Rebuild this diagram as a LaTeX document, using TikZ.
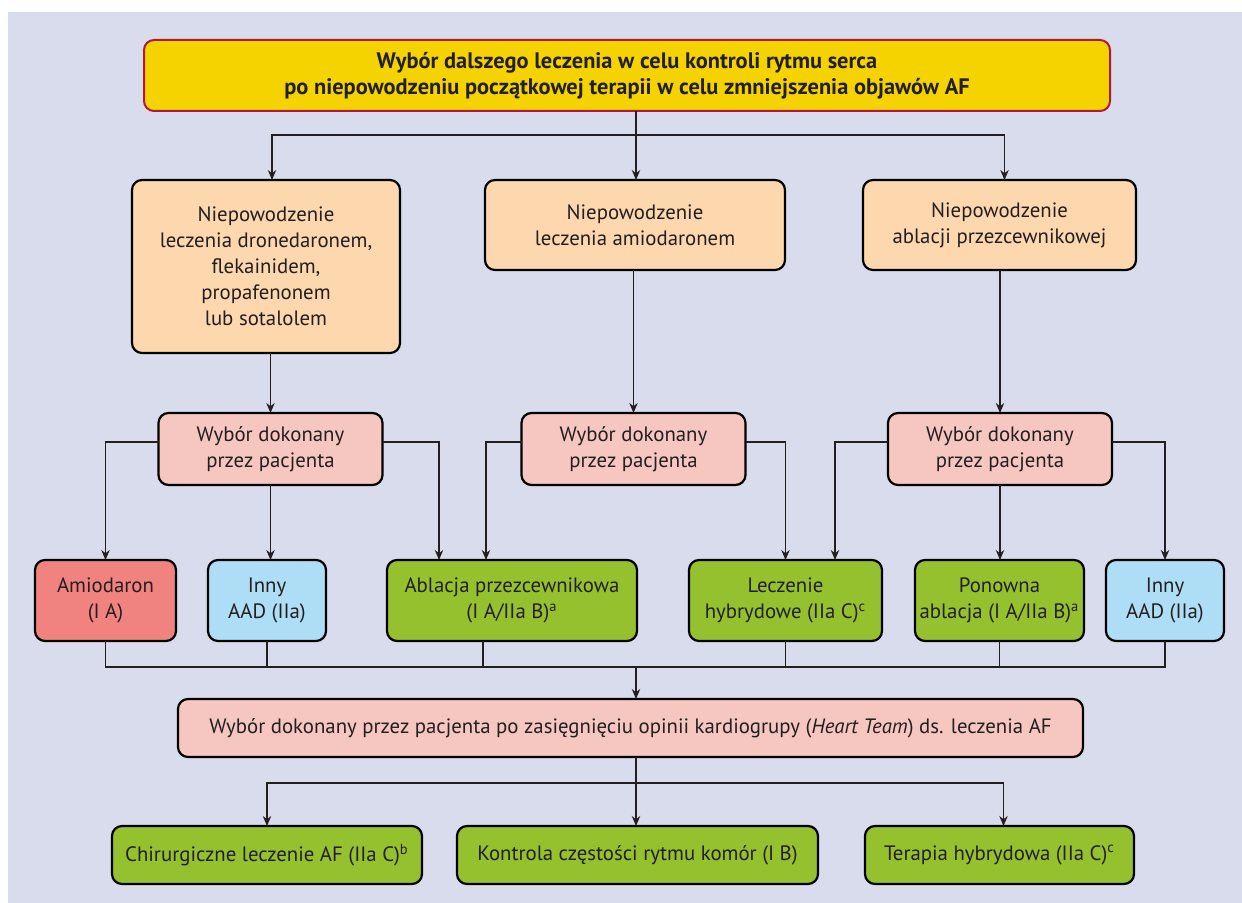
\documentclass[tikz,border=0pt]{standalone}
\usepackage{fontspec}
\setmainfont{PT Sans}
\usetikzlibrary{positioning,arrows.meta}
\definecolor{bgcol}{RGB}{217,220,236}
\definecolor{yellowbg}{RGB}{245,211,0}
\definecolor{crimson}{RGB}{176,24,66}
\definecolor{peach}{RGB}{253,215,174}
\definecolor{pinkbg}{RGB}{246,198,192}
\definecolor{redbg}{RGB}{240,131,128}
\definecolor{bluebg}{RGB}{174,221,246}
\definecolor{greenbg}{RGB}{149,193,47}
\definecolor{txt}{RGB}{35,31,32}
\tikzstyle{hbox}=[rectangle, rounded corners=5pt, draw=black, line width=1.1pt,
                  inner sep=0.5pt, outer sep=0pt, align=center, text=txt,
                  font=\fontsize{10.4}{13}\selectfont]
\tikzstyle{ybox}=[hbox, fill=yellowbg, draw=crimson, line width=1pt,
                  font=\fontsize{11.2}{13}\selectfont\bfseries]
\tikzstyle{obox}=[hbox, fill=peach]
\tikzstyle{rbox}=[hbox, fill=pinkbg]
\tikzstyle{abox}=[hbox, fill=redbg, minimum width=70.5pt, minimum height=40.5pt]
\tikzstyle{bbox}=[hbox, fill=bluebg, minimum width=59pt, minimum height=40.5pt]
\tikzstyle{gbox}=[hbox, fill=greenbg, minimum height=40.5pt]
\tikzstyle{pline}=[-, line width=0.6pt, draw=txt]
\tikzstyle{parrow}=[pline, -{Stealth[length=5pt,width=4.2pt]}]

\begin{document}
\begin{tikzpicture}
\useasboundingbox (0,0) rectangle (621pt,-451.5pt);
\fill[bgcol] (4pt,-6pt) rectangle (621pt,-451.5pt);

\node (TOP) [ybox, minimum width=483pt, minimum height=35.5pt] at (313.5pt,-37.75pt)
 {Wybór dalszego leczenia w celu kontroli rytmu serca\\ po niepowodzeniu początkowej terapii w celu zmniejszenia objawów AF};

\node (NDRON) [obox, minimum width=134pt, minimum height=86.5pt, below=34.5pt of TOP, xshift=-180.5pt]
 {Niepowodzenie\\ leczenia dronedaronem,\\ flekainidem,\\ propafenonem\\ lub sotalolem};
\node (NAMIO) [obox, minimum width=150pt, minimum height=45pt, below=34.5pt of TOP, xshift=4pt]
 {Niepowodzenie\\ leczenia amiodaronem};
\node (NABL) [obox, minimum width=136.5pt, minimum height=45pt, below=34.5pt of TOP, xshift=186.25pt]
 {Niepowodzenie\\ ablacji przezcewnikowej};

\coordinate (SPLIT) at ([xshift=4.5pt,yshift=-12pt]TOP.south);
\draw[pline] ([xshift=4.5pt]TOP.south) -- (SPLIT);
\draw[parrow] (SPLIT) -| ([xshift=3pt]NDRON.north);
\draw[parrow] (SPLIT) -- (SPLIT |- NAMIO.north);
\draw[parrow] (SPLIT) -| ([xshift=2.5pt]NABL.north);

\node (PLEFT) [rbox, minimum width=112pt, minimum height=36pt, below=30pt of NDRON, xshift=2.25pt]
 {Wybór dokonany\\ przez pacjenta};
\node (PMID) [rbox, minimum width=112pt, minimum height=36pt, below=71.5pt of NAMIO, xshift=-0.75pt]
 {Wybór dokonany\\ przez pacjenta};
\node (PRIGHT) [rbox, minimum width=112pt, minimum height=36pt, below=71.5pt of NABL, xshift=0.25pt]
 {Wybór dokonany\\ przez pacjenta};

\draw[parrow] (PLEFT.north |- NDRON.south) -- (PLEFT.north);
\draw[parrow] (PMID.north |- NAMIO.south) -- (PMID.north);
\draw[parrow] (PRIGHT.north |- NABL.south) -- (PRIGHT.north);

\node (AMIO) [abox, below=37.5pt of PLEFT, xshift=-82.5pt] {Amiodaron\\ (I A)};
\node (INNY1) [bbox, right=16pt of AMIO] {Inny\\ AAD (IIa)};
\node (ABLP) [gbox, minimum width=125pt, right=30.5pt of INNY1]
 {Ablacja przezcewnikowa\\ (I A/IIa B)\textsuperscript{a}};
\node (HYBR) [gbox, minimum width=96.5pt, right=26pt of ABLP]
 {Leczenie\\ hybrydowe (IIa C)\textsuperscript{c}};
\node (PONOW) [gbox, minimum width=84.5pt, right=16.5pt of HYBR]
 {Ponowna\\ ablacja (I A/IIa B)\textsuperscript{a}};
\node (INNY2) [bbox, right=11pt of PONOW] {Inny\\ AAD (IIa)};

\draw[parrow] ([yshift=3.5pt]PLEFT.west) -| (AMIO.north);
\draw[parrow] (PLEFT.south) -- (PLEFT.south |- INNY1.north);
\draw[parrow] ([yshift=3.5pt]PLEFT.east) -| ([xshift=-36.5pt]ABLP.north);
\draw[parrow] ([yshift=3.5pt]PMID.west) -| ([xshift=-13pt]ABLP.north);
\draw[parrow] ([yshift=3.5pt]PMID.east) -| (HYBR.north);
\draw[parrow] ([yshift=3.5pt]PRIGHT.west) -| ([xshift=24.75pt]HYBR.north);
\draw[parrow] (PRIGHT.south) -- (PRIGHT.south |- PONOW.north);
\draw[parrow] ([yshift=3.5pt]PRIGHT.east) -| (INNY2.north);

\node (HTEAM) [rbox, minimum width=452.5pt, minimum height=29pt, below=29pt of HYBR, xshift=-77.5pt]
 {Wybór dokonany przez pacjenta po zasięgnięciu opinii kardiogrupy (\textit{Heart Team}) ds. leczenia AF};

\draw[pline] (AMIO.south) -- ++(0,-13pt) -| (INNY2.south);
\draw[pline] (INNY1.south) -- ++(0,-13pt);
\draw[pline] ([xshift=-14.5pt]ABLP.south) -- ++(0,-13pt);
\draw[pline] (HYBR.south) -- ++(0,-13pt);
\draw[pline] (PONOW.south) -- ++(0,-13pt);
\coordinate (MERGE) at ([xshift=2.75pt,yshift=16pt]HTEAM.north);
\draw[parrow] (MERGE) -- (MERGE |- HTEAM.north);

\node (SURG) [gbox, minimum width=155pt, minimum height=29pt, below=34.5pt of HTEAM, xshift=-181.75pt]
 {Chirurgiczne leczenie AF (IIa C)\textsuperscript{b}};
\node (RATE) [gbox, minimum width=180.5pt, minimum height=29pt, below=34.5pt of HTEAM, xshift=3.5pt]
 {Kontrola częstości rytmu komór (I B)};
\node (HYBT) [gbox, minimum width=134.5pt, minimum height=29pt, below=34.5pt of HTEAM, xshift=184.5pt]
 {Terapia hybrydowa (IIa C)\textsuperscript{c}};

\coordinate (SPLITB) at ([xshift=2.75pt,yshift=-13pt]HTEAM.south);
\draw[pline] ([xshift=2.75pt]HTEAM.south) -- (SPLITB);
\draw[parrow] (SPLITB) -| (SURG.north);
\draw[parrow] (SPLITB) -- (SPLITB |- RATE.north);
\draw[parrow] (SPLITB) -| ([xshift=2pt]HYBT.north);

\end{tikzpicture}
\end{document}
